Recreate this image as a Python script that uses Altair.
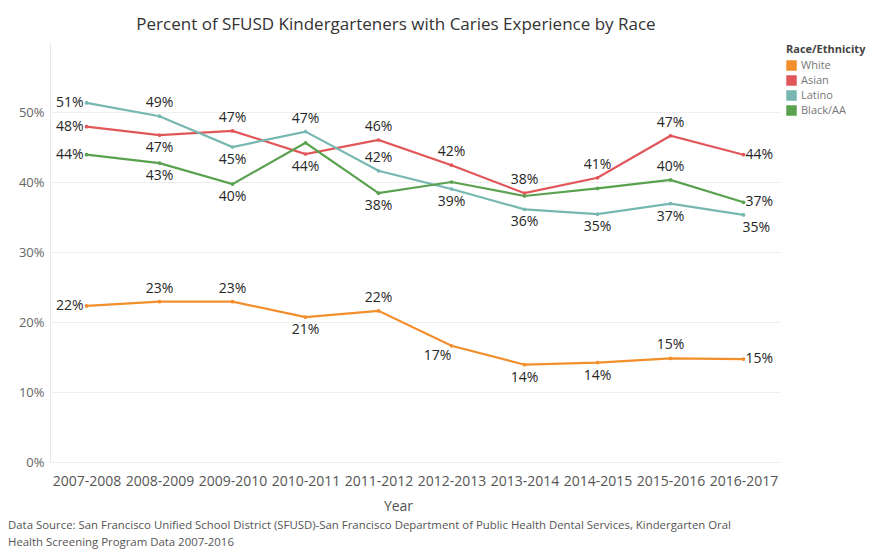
import altair as alt
import pandas as pd

years = ["2007-2008", "2008-2009", "2009-2010", "2010-2011", "2011-2012",
         "2012-2013", "2013-2014", "2014-2015", "2015-2016", "2016-2017"]
races = ["White", "Asian", "Latino", "Black/AA"]
colors = ["#f28e2b", "#e15759", "#76b7b2", "#59a14f"]

white = [22.3, 22.9, 22.9, 20.7, 21.6, 16.6, 13.9, 14.2, 14.8, 14.7]
asian = [47.9, 46.7, 47.3, 44.0, 46.0, 42.4, 38.4, 40.6, 46.6, 43.9]
latino = [51.3, 49.4, 45.0, 47.2, 41.6, 39.0, 36.1, 35.4, 36.9, 35.3]
black = [43.9, 42.7, 39.7, 45.6, 38.4, 40.0, 38.0, 39.1, 40.3, 37.1]

# where each point's label sits (Tableau hides some overlapping labels)
white_lbl = ["left", "above", "above", "below", "above", "belowleft", "below", "below", "above", "right"]
asian_lbl = ["left", "below", "above", "below", "above", "above", "above", "above", "above", "right"]
latino_lbl = ["left", "above", "below", "above", "above", "below", "below", "below", "below", "belowright"]
black_lbl = ["left", "below", "below", "none", "below", "none", "none", "none", "above", "right"]

y_ticks = [0, 0.1, 0.2, 0.3, 0.4, 0.5]

title = "Percent of SFUSD Kindergarteners with Caries Experience by Race"
note1 = ("Data Source: San Francisco Unified School District (SFUSD)-San Francisco Department of "
         "Public Health Dental Services, Kindergarten Oral")
note2 = "Health Screening Program Data 2007-2016"

rows = []
for race, vals, lbls in zip(races, [white, asian, latino, black],
                            [white_lbl, asian_lbl, latino_lbl, black_lbl]):
    for yr, v, p in zip(years, vals, lbls):
        rows.append({"Year": yr, "Race": race, "value": v / 100.0, "pos": p})
df = pd.DataFrame(rows)

FONT = "Open Sans"

base = alt.Chart(df).encode(
    x=alt.X("Year:N", sort=years,
            scale=alt.Scale(paddingInner=0, paddingOuter=0),
            axis=alt.Axis(title="Year", labelAngle=0, labelFontSize=14, labelColor="#555555",
                          labelFont=FONT, ticks=False, domain=False, grid=False, labelPadding=12,
                          titleFont=FONT, titleFontSize=14, titleFontWeight="normal",
                          titleColor="#555555", titleX=348, titlePadding=11)),
    y=alt.Y("value:Q", scale=alt.Scale(domain=[0, 0.6], nice=False),
            axis=alt.Axis(title=None, format=".0%", values=y_ticks, labelFontSize=13,
                          labelColor="#666666", labelFont=FONT, ticks=False, grid=True,
                          domainColor="#e8e8e8", gridColor="#eeeeee", labelPadding=6)),
    color=alt.Color("Race:N", scale=alt.Scale(domain=races, range=colors),
                    legend=alt.Legend(title="Race/Ethnicity", orient="none", legendX=736, legendY=2,
                                      symbolType="square", symbolSize=110, symbolStrokeWidth=0,
                                      titleFont=FONT, titleFontSize=11, titleFontWeight="bold",
                                      titleColor="#444444", labelFont=FONT, labelFontSize=11,
                                      labelColor="#777777", rowPadding=3, titlePadding=5)),
)

lines = base.mark_line(strokeWidth=2.2, point=alt.OverlayMarkDef(size=14, filled=True))

def lbl(pos, **kw):
    return base.transform_filter(alt.datum.pos == pos).mark_text(
        font=FONT, fontSize=14, **kw
    ).encode(text=alt.Text("value:Q", format=".0%"), color=alt.value("#262626"))

labels = [
    lbl("above", baseline="middle", dy=-13),
    lbl("below", baseline="middle", dy=13),
    lbl("belowleft", baseline="middle", dx=-14, dy=10),
    lbl("left", align="right", baseline="middle", dx=-3),
    lbl("right", align="left", baseline="middle", dx=2),
    lbl("belowright", align="left", baseline="middle", dx=-1, dy=13),
]

n1 = alt.Chart(pd.DataFrame({"t": [note1]})).mark_text(
    font=FONT, fontSize=11.4, color="#555555", align="left", baseline="middle"
).encode(x=alt.value(-42), y=alt.value(484), text="t:N")
n2 = alt.Chart(pd.DataFrame({"t": [note2]})).mark_text(
    font=FONT, fontSize=11.4, color="#555555", align="left", baseline="middle"
).encode(x=alt.value(-42), y=alt.value(501), text="t:N")

chart = alt.layer(lines, *labels, n1, n2).properties(
    width=730, height=420,
    title=alt.TitleParams(title, font=FONT, fontSize=17, fontWeight="normal", color="#333333",
                          anchor="middle", dx=-19, offset=8),
    padding={"left": 0, "top": 8, "right": 5, "bottom": 2},
).configure_view(stroke=None)

chart.save("out.html", embed_options={"renderer": "svg", "actions": False})
